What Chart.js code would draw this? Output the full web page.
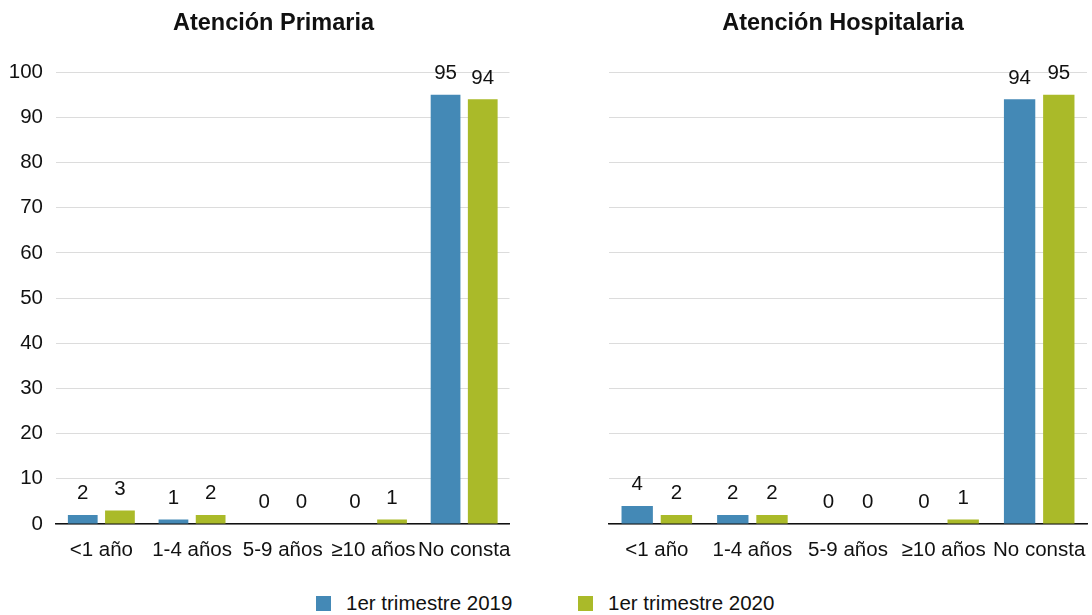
<!DOCTYPE html>
<html>
<head>
<meta charset="utf-8">
<script src="https://cdn.jsdelivr.net/npm/chart.js@4/dist/chart.umd.min.js"></script>
<style>
  html, body { margin: 0; padding: 0; background: #fff; }
  body { width: 1092px; height: 615px; position: relative; overflow: hidden;
         font-family: "Liberation Sans", Arial, sans-serif; }
  .panel { position: absolute; top: 0; height: 570px; }
  #left { left: 0; width: 547px; }
  #right { left: 594px; width: 498px; }
  .legend { position: absolute; top: 591px; left: 0; width: 1092px; height: 24px;
            font-size: 20.5px; color: #111; }
  .legend span.item { position: absolute; top: 0; white-space: nowrap; line-height: 24px; }
  .legend span.box { position: absolute; width: 15px; height: 15px; top: 5px; }
</style>
</head>
<body>
<div class="panel" id="left"><canvas id="cLeft"></canvas></div>
<div class="panel" id="right"><canvas id="cRight"></canvas></div>
<div class="legend">
  <span class="box" style="left:316px;background:#4489b6"></span>
  <span class="item" style="left:346px">1er trimestre 2019</span>
  <span class="box" style="left:578px;background:#aaba29"></span>
  <span class="item" style="left:608px">1er trimestre 2020</span>
</div>
<script>
// Age groups and percentages per care level
const categories = ['<1 año', '1-4 años', '5-9 años', '≥10 años', 'No consta'];
const seriesNames = ['1er trimestre 2019', '1er trimestre 2020'];
const primaria2019 = [2, 1, 0, 0, 95];
const primaria2020 = [3, 2, 0, 1, 94];
const hospitalaria2019 = [4, 2, 0, 0, 94];
const hospitalaria2020 = [2, 2, 0, 1, 95];
const yTicks = [0, 10, 20, 30, 40, 50, 60, 70, 80, 90, 100];

const BLUE = '#4489b6';
const GREEN = '#aaba29';
const FONT = '"Liberation Sans", Arial, sans-serif';

// Value labels above each bar
const valueLabels = {
  id: 'valueLabels',
  afterDatasetsDraw(chart) {
    const ctx = chart.ctx;
    ctx.save();
    ctx.font = '20.5px ' + FONT;
    ctx.fillStyle = '#111';
    ctx.textAlign = 'center';
    ctx.textBaseline = 'bottom';
    chart.data.datasets.forEach((ds, i) => {
      chart.getDatasetMeta(i).data.forEach((bar, j) => {
        ctx.fillText(String(ds.data[j]), bar.x, bar.y - 11);
      });
    });
    ctx.restore();
  }
};

// yWidth: left axis band; rightGap: empty band right of the plot
function makeChart(id, title, d2019, d2020, showY, yWidth, rightGap) {
  return new Chart(document.getElementById(id), {
    type: 'bar',
    data: {
      labels: categories,
      datasets: [
        { label: seriesNames[0], data: d2019, backgroundColor: BLUE, yAxisID: 'y',
          categoryPercentage: 0.82, barPercentage: 0.8 },
        { label: seriesNames[1], data: d2020, backgroundColor: GREEN, yAxisID: 'y',
          categoryPercentage: 0.82, barPercentage: 0.8 }
      ]
    },
    options: {
      responsive: true,
      maintainAspectRatio: false,
      animation: false,
      layout: { padding: 0 },
      plugins: {
        legend: { display: false },
        tooltip: { enabled: false },
        title: {
          display: true, text: title, color: '#111',
          font: { family: FONT, size: 23.5, weight: 'bold' },
          padding: { top: 9, bottom: 35 }
        }
      },
      scales: {
        x: {
          grid: { display: false, drawTicks: false },
          border: { display: true, color: '#111', width: 1.5 },
          ticks: { color: '#111', font: { family: FONT, size: 20.5 }, padding: 14, maxRotation: 0, autoSkip: false },
          afterFit(scale) {
            scale.height = 46;
            scale.paddingLeft = 0;
            scale.paddingRight = 0;
          }
        },
        y: {
          position: 'left',
          min: 0, max: 100,
          afterBuildTicks(scale) { scale.ticks = yTicks.map(v => ({ value: v })); },
          grid: { color: '#dcdcdc', lineWidth: 1, drawTicks: false },
          border: { display: false },
          ticks: { display: showY, color: '#111', font: { family: FONT, size: 20.5 }, padding: 13 },
          afterFit(scale) { scale.width = yWidth; }
        },
        gap: {
          type: 'linear', position: 'right', min: 0, max: 100,
          grid: { display: false, drawTicks: false },
          border: { display: false },
          ticks: { display: false },
          afterFit(scale) { scale.width = rightGap; }
        }
      }
    },
    plugins: [valueLabels]
  });
}

makeChart('cLeft', 'Atención Primaria', primaria2019, primaria2020, true, 56, 37.5);
makeChart('cRight', 'Atención Hospitalaria', hospitalaria2019, hospitalaria2020, false, 15, 5);
</script>
</body>
</html>
